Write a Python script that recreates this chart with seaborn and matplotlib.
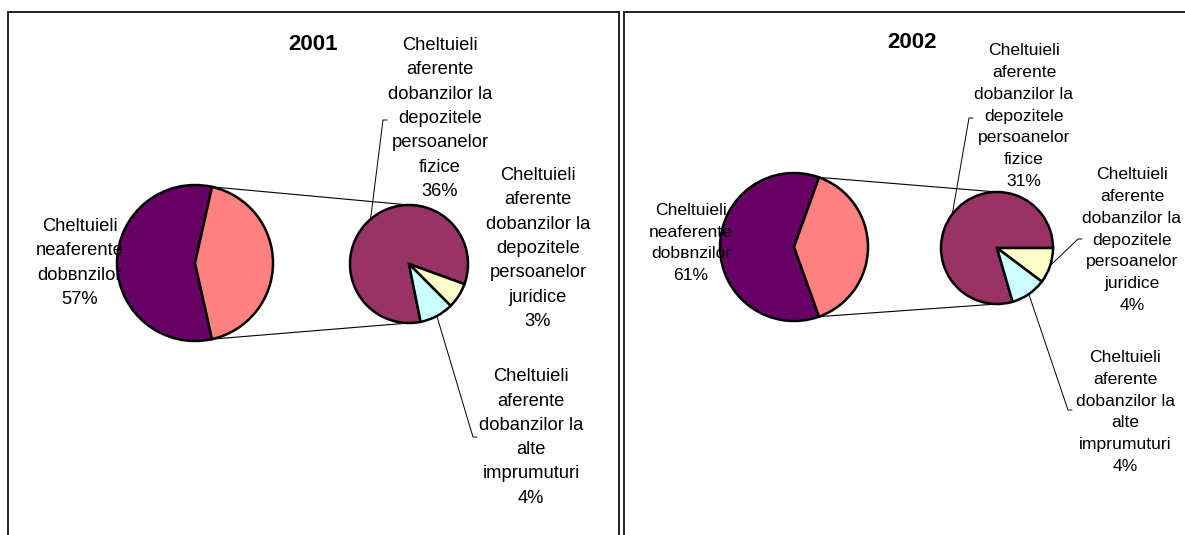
import numpy as np
import matplotlib
matplotlib.use("Agg")
import matplotlib.pyplot as plt
from matplotlib.patches import Rectangle
import seaborn as sns

# date: structura cheltuielilor (%)
years = ["2001", "2002"]
main_label = "Cheltuieli\nneaferente\ndobвnzilor"
detail_labels = [
    "Cheltuieli\naferente\ndobanzilor la\ndepozitele\npersoanelor\nfizice",
    "Cheltuieli\naferente\ndobanzilor la\ndepozitele\npersoanelor\njuridice",
    "Cheltuieli\naferente\ndobanzilor la\nalte\nimprumuturi",
]
main_share = [57, 61]
detail_2001 = [36, 3, 4]
detail_2002 = [31, 4, 4]
details = [detail_2001, detail_2002]

main_colors = sns.color_palette(["#660066", "#FF8080"])
detail_colors = sns.color_palette(["#993366", "#FFFFCC", "#CCFFFF"])

sns.set_theme(style="white", rc={"text.color": "black"})
plt.rcParams["font.family"] = ["Liberation Sans", "DejaVu Sans"]

W, H = 1185, 535

# asezare in pixeli (y de sus in jos)
layout = [
    dict(box=(8, 12, 611), title=(313, 45), main=(195, 263, 78), sec=(409, 264, 59),
         anchor=-20, fs=13.2, main_txt=(80, 263),
         txt=[(440, 118.5), (538, 248.5), (531, 437.5)],
         lead=[(383, 120), None, (473, 437)]),
    dict(box=(624, 12, 700), title=(912, 43), main=(794, 247, 74), sec=(997, 248, 56),
         anchor=0, fs=12.6, main_txt=(691, 243),
         txt=[(1024, 116), (1132, 240), (1125, 412)],
         lead=[(969, 118), (1078, 239), (1068, 410)]),
]

fig = plt.figure(figsize=(W / 100, H / 100), dpi=100)
ax = fig.add_axes([0, 0, 1, 1])

for year, main, det, lay in zip(years, main_share, details, layout):
    bx, by, bw = lay["box"]
    ax.add_patch(Rectangle((bx, -100), bw, H - by + 100, fill=False,
                           edgecolor="#111111", linewidth=1.3))
    ax.text(lay["title"][0], H - lay["title"][1], year, ha="center", va="center",
            fontsize=16, fontweight="bold")

    # pie-ul principal
    rest = sum(det)
    mx, my, mr = lay["main"]
    my = H - my
    wedges, _ = ax.pie([main, rest], colors=main_colors, center=(mx, my), radius=mr,
                       startangle=180 - 360 * main / (main + rest) / 2,
                       wedgeprops=dict(edgecolor="black", linewidth=1.8), frame=True)
    ax.text(lay["main_txt"][0], H - lay["main_txt"][1], f"{main_label}\n{main}%",
            ha="center", va="center", fontsize=lay["fs"], linespacing=1.56, zorder=5)

    # pie-ul secundar
    sx, sy, sr = lay["sec"]
    sy = H - sy
    sw, _ = ax.pie(det, colors=detail_colors, center=(sx, sy), radius=sr,
                   startangle=lay["anchor"] + 360 * det[0] / rest, counterclock=False,
                   wedgeprops=dict(edgecolor="black", linewidth=1.8), frame=True)

    # liniile de legatura
    sl = wedges[1]
    for th, yy in [(sl.theta2, sy + sr), (sl.theta1, sy - sr)]:
        t = np.deg2rad(th)
        ax.plot([mx + mr * np.cos(t), sx], [my + mr * np.sin(t), yy],
                color="black", linewidth=0.8, zorder=0)

    for w, lab, val, (tx, ty), ld in zip(sw, detail_labels, det, lay["txt"], lay["lead"]):
        ax.text(tx, H - ty, f"{lab}\n{val}%", ha="center", va="center",
                fontsize=lay["fs"], linespacing=1.56)
        if ld is None:
            continue
        t = np.deg2rad((w.theta1 + w.theta2) / 2)
        ex, ey = sx + sr * np.cos(t), sy + sr * np.sin(t)
        ax.plot([ex, ld[0], ld[0] + 4], [ey, H - ld[1], H - ld[1]],
                color="black", linewidth=0.7)

ax.set_xlim(0, W)
ax.set_ylim(0, H)
ax.set_axis_off()

fig.savefig("out.png", dpi=100)
